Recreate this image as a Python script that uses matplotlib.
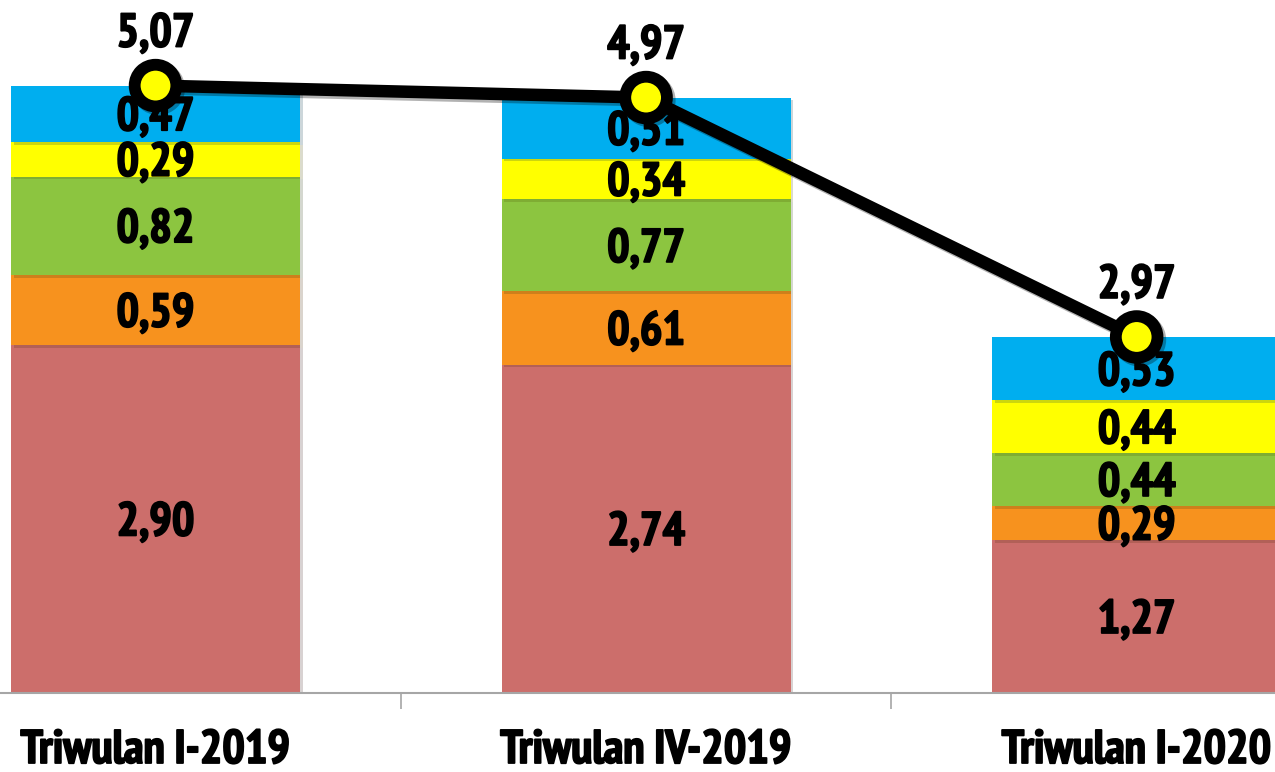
import matplotlib
matplotlib.use("Agg")
import matplotlib.pyplot as plt
import matplotlib.patheffects as pe
from matplotlib import font_manager as fm

categories = ['Triwulan I-2019', 'Triwulan IV-2019', 'Triwulan I-2020']
seg_red = [2.90, 2.74, 1.27]
seg_orange = [0.59, 0.61, 0.29]
seg_green = [0.82, 0.77, 0.44]
seg_yellow = [0.29, 0.34, 0.44]
seg_blue = [0.47, 0.51, 0.53]
totals = [5.07, 4.97, 2.97]

series = [seg_red, seg_orange, seg_green, seg_yellow, seg_blue]
colors = ['#CC6E6B', '#F7921E', '#8CC540', '#FFFF00', '#00AEEF']

# pick a condensed bold face if one is installed
def pref(f):
    n = (f.name + ' ' + f.fname).lower()
    if 'narrow' in n:
        return 0
    if 'roboto' in n:
        return 1
    if 'liberation' in n:
        return 2
    return 3

cands = []
for f in fm.fontManager.ttflist:
    n = (f.name + ' ' + f.fname).lower()
    is_cond = ('narrow' in n or 'condensed' in n or
               f.stretch in ('condensed', 'semi-condensed', 'extra-condensed'))
    bad = any(k in n for k in ('italic', 'oblique', 'semibold', 'extrabold', 'semi-bold',
                               'extra-bold', 'black', 'light', 'medium', 'thin'))
    if is_cond and not bad and (f.weight in ('bold', 700)):
        cands.append(f)
cands.sort(key=pref)
if cands:
    FP = dict(fontproperties=fm.FontProperties(fname=cands[0].fname, size=34))
else:
    FP = dict(fontproperties=fm.FontProperties(family=['Liberation Sans', 'DejaVu Sans'],
                                               weight='bold', size=31))
heavy = [pe.withStroke(linewidth=1.3, foreground='black')]

def fmt(v):
    return f"{v:.2f}".replace('.', ',')

fig = plt.figure(figsize=(12.75, 7.72), dpi=100)
ax = fig.add_axes([0, 79.5 / 772, 1, 692.5 / 772])
x = list(range(len(categories)))
width = 0.589
bottoms = [0.0] * len(categories)
shadow = [pe.SimplePatchShadow(offset=(2, -2), alpha=0.2), pe.Normal()]
for vals, col in zip(series, colors):
    bars = ax.bar(x, vals, width, bottom=bottoms, color=col, zorder=2)
    for b in bars:
        b.set_path_effects(shadow)
    for xi, v, b0 in zip(x, vals, bottoms):
        ax.text(xi, b0 + v / 2, fmt(v), ha='center', va='center_baseline',
                color='black', zorder=3, path_effects=heavy, **FP)
    bottoms = [b0 + v for b0, v in zip(bottoms, vals)]

ax.plot(x, totals, color='black', lw=9, zorder=5, solid_capstyle='round',
        marker='o', ms=30, mfc='#FFFF00', mec='black', mew=8.5,
        path_effects=[pe.SimpleLineShadow(offset=(2, -2), alpha=0.3), pe.Normal()])
for xi, t in zip(x, totals):
    ax.annotate(fmt(t), (xi, t), xytext=(0, 40), textcoords='offset points',
                ha='center', va='center_baseline', zorder=6, path_effects=heavy, **FP)

ax.set_yticks([])
for s in ['left', 'right', 'top']:
    ax.spines[s].set_visible(False)
ax.spines['bottom'].set_color('#A6A6A6')
ax.spines['bottom'].set_linewidth(1.5)
ax.set_xticks(x)
ax.set_xticklabels(categories, path_effects=heavy, **FP)
ax.tick_params(axis='x', which='major', length=0, pad=27)
ax.set_xticks([-0.5, 0.5, 1.5, 2.5], minor=True)
ax.tick_params(axis='x', which='minor', length=11.5, width=1.2, color='#A6A6A6', direction='out')
ax.set_xlim(-0.317, 2.282)
ax.set_ylim(0, 5.785)

fig.savefig('out.png', dpi=100)
